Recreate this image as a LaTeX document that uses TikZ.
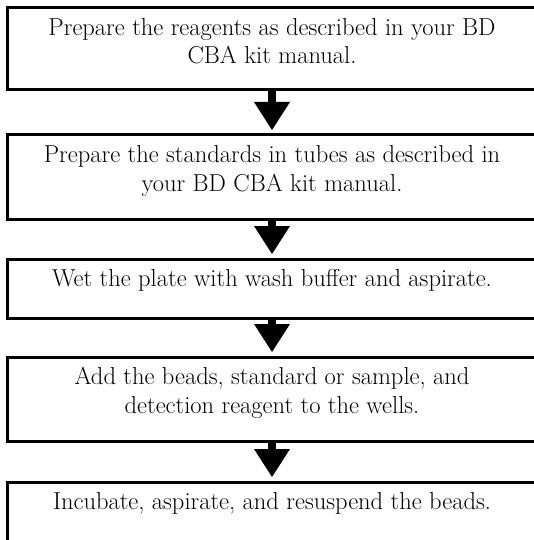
\documentclass[tikz,border=0pt]{standalone}
\usepackage{fontspec}
\usepackage{tikz}
\usetikzlibrary{arrows.meta,positioning}

\tikzset{
  stepbox/.style={draw, line width=3pt, inner sep=0pt, outer sep=0pt, minimum width=529pt, anchor=north},
  flowarrow/.style={line width=8pt, -{Triangle[width=36pt, length=28pt, line width=0pt]}, shorten >=5pt}
}
\newcommand{\steptext}[2]{\parbox[t][#1][t]{525pt}{\centering\rule{0pt}{27.5pt}#2}}

\begin{document}
\begin{tikzpicture}[font=\fontsize{24.5pt}{28.5pt}\selectfont]
  \useasboundingbox (0,0) rectangle (533pt,-540pt);

  % steps
  \node[stepbox] (b1) at (272pt,-8pt) {\steptext{82pt}{Prepare the reagents as described in your BD\\CBA kit manual.}};
  \node[stepbox, below=45pt of b1] (b2) {\steptext{84pt}{Prepare the standards in tubes as described in\\your BD CBA kit manual.}};
  \node[stepbox, below=40pt of b2] (b3) {\steptext{59pt}{Wet the plate with wash buffer and aspirate.}};
  \node[stepbox, below=39pt of b3] (b4) {\steptext{84pt}{Add the beads, standard or sample, and\\detection reagent to the wells.}};
  \node[stepbox, below=41pt of b4] (b5) {\steptext{61pt}{Incubate, aspirate, and resuspend the beads.}};

  % arrows between steps
  \foreach \a/\b in {b1/b2,b2/b3,b3/b4,b4/b5}
    \draw[flowarrow] (\a.south) -- (\b.north);
\end{tikzpicture}
\end{document}
